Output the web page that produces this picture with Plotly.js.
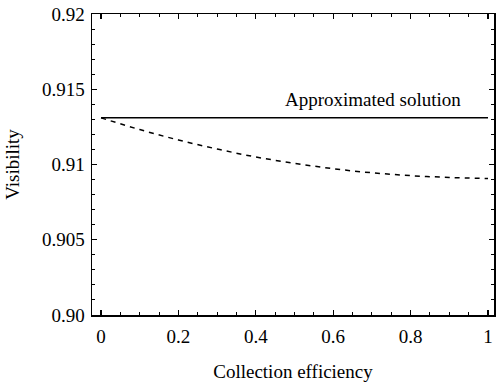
<!DOCTYPE html>
<html>
<head>
<meta charset="utf-8">
<script src="https://cdn.plot.ly/plotly-3.0.1.min.js"></script>
<style>
  body { margin: 0; background: #fff; }
  #graph { width: 498px; height: 383px; }
</style>
</head>
<body>
<div id="graph"></div>
<script>
// Collection efficiency values
const efficiency = [0, 0.1, 0.2, 0.3, 0.4, 0.5, 0.6, 0.7, 0.8, 0.9, 1.0];
// Exact visibility (dashed curve)
const visibilityExact = [0.9131, 0.91232, 0.91163, 0.91103, 0.91050, 0.91008, 0.90972, 0.90945, 0.90926, 0.90914, 0.90907];
// Approximated solution (flat line)
const visibilityApprox = [0.9131, 0.9131, 0.9131, 0.9131, 0.9131, 0.9131, 0.9131, 0.9131, 0.9131, 0.9131, 0.9131];

const yTickVals = [0.90, 0.905, 0.91, 0.915, 0.92];
const yTickText = ['0.90', '0.905', '0.91', '0.915', '0.92'];
const xTickVals = [0, 0.2, 0.4, 0.6, 0.8, 1];
const xTickText = ['0', '0.2', '0.4', '0.6', '0.8', '1'];

const font = { family: "'Liberation Serif', 'Times New Roman', serif", size: 19, color: '#000' };

const traceApprox = {
    x: efficiency,
    y: visibilityApprox,
    type: 'scatter',
    mode: 'lines',
    line: { color: '#000', width: 1.5 },
    showlegend: false
};

const traceExact = {
    x: efficiency,
    y: visibilityExact,
    type: 'scatter',
    mode: 'lines',
    line: { color: '#000', width: 1.5, dash: '5px,5px', shape: 'spline' },
    showlegend: false
};

const axisCommon = {
    showgrid: false,
    zeroline: false,
    showline: true,
    linecolor: '#000',
    linewidth: 1.5,
    mirror: 'ticks',
    ticks: 'inside',
    ticklen: 5,
    tickwidth: 1.2,
    tickcolor: '#000',
    tickfont: font
};

const layout = {
    width: 498,
    height: 383,
    margin: { l: 92, r: 4, t: 14, b: 68 },
    paper_bgcolor: '#fff',
    plot_bgcolor: '#fff',
    font: font,
    xaxis: Object.assign({}, axisCommon, {
        range: [-0.0233, 1.0155],
        tickmode: 'array',
        tickvals: xTickVals,
        ticktext: xTickText,
        ticklabelstandoff: 4,
        minor: { dtick: 0.05, tick0: 0, ticks: 'inside', ticklen: 3, tickcolor: '#000', tickwidth: 1 },
        title: { text: 'Collection efficiency', font: font, standoff: 18 }
    }),
    yaxis: Object.assign({}, axisCommon, {
        range: [0.90, 0.92],
        tickmode: 'array',
        tickvals: yTickVals,
        ticktext: yTickText,
        ticklabelstandoff: 2,
        minor: { dtick: 0.001, tick0: 0.9, ticks: 'inside', ticklen: 3, tickcolor: '#000', tickwidth: 1 },
        title: { text: 'Visibility', font: font, standoff: 17 }
    }),
    annotations: [{
        x: 0.703, y: 0.9143,
        xref: 'x', yref: 'y',
        text: 'Approximated solution',
        showarrow: false,
        font: font
    }]
};

Plotly.newPlot('graph', [traceApprox, traceExact], layout, { displayModeBar: false, staticPlot: true });
</script>
</body>
</html>
